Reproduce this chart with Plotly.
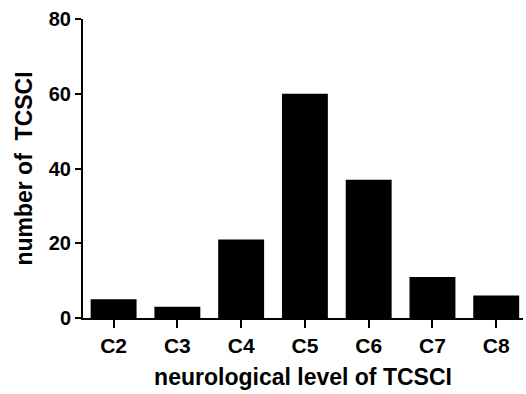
import plotly.graph_objects as go

levels = ["C2", "C3", "C4", "C5", "C6", "C7", "C8"]
counts = [5, 3, 21, 60, 37, 11, 6]
y_ticks = [0, 20, 40, 60, 80]

FONT = "Liberation Sans, Arial, sans-serif"

fig = go.Figure(go.Bar(
    x=list(range(len(levels))), y=counts,
    width=0.72, marker=dict(color="black", line=dict(width=0)),
    hoverinfo="skip",
))

fig.update_layout(
    width=526, height=394,
    margin=dict(l=83, r=3, t=19, b=76),
    paper_bgcolor="white", plot_bgcolor="white",
    showlegend=False,
    font=dict(family=FONT, color="black", size=20, weight="bold"),
)
fig.update_xaxes(
    range=[-0.48, 6.42], automargin=False,
    tickmode="array", tickvals=list(range(len(levels))), ticktext=levels,
    showline=True, linecolor="black", linewidth=2,
    ticks="outside", ticklen=8, tickwidth=2, tickcolor="black",
    showgrid=False, zeroline=False,
    tickfont=dict(family=FONT, size=21, color="black", weight="bold"),
    title=dict(text="neurological level of TCSCI",
               font=dict(family=FONT, size=23, weight="bold"), standoff=13),
)
fig.update_yaxes(
    range=[0, 80], automargin=False,
    tickmode="array", tickvals=y_ticks,
    showline=True, linecolor="black", linewidth=2,
    ticks="outside", ticklen=6, tickwidth=2, tickcolor="black",
    showgrid=False, zeroline=False,
    tickfont=dict(family=FONT, size=20, color="black", weight="bold"),
    title=dict(text="number of  TCSCI",
               font=dict(family=FONT, size=23, weight="bold"), standoff=10),
)

fig.write_html("out.html", config={"displayModeBar": False, "staticPlot": True},
               post_script="document.body.style.margin='0';")
